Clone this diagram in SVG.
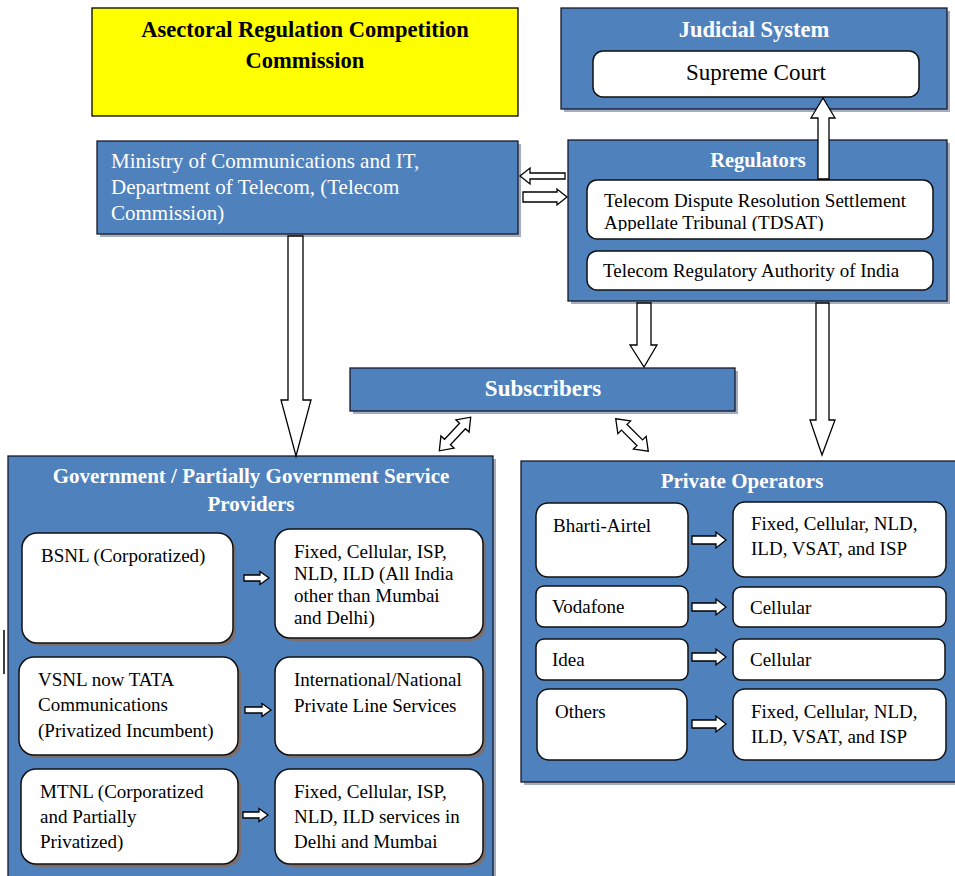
<svg xmlns="http://www.w3.org/2000/svg" width="955" height="876" viewBox="0 0 955 876">
<style>
.outer{fill:#4f81bd;stroke:#1a1a2a;stroke-width:1.3}
.oshadow{fill:#a3adbd}
.ishadow{fill:#7d6e6e}
.inner{fill:#ffffff;stroke:#111;stroke-width:1.5}
.arr{fill:#ffffff;stroke:#000;stroke-width:1.3;stroke-linejoin:miter}
.t{font-family:"Liberation Serif","Times New Roman",serif;font-size:19px;fill:#000}
.w{font-family:"Liberation Serif","Times New Roman",serif;fill:#ffffff}
.b{font-weight:bold}
</style>
<defs>
<clipPath id="tdclip"><rect x="587" y="180" width="346" height="51"/></clipPath>
</defs>
<rect x="0" y="0" width="955" height="876" fill="#ffffff"/>

<g id="commission">
<rect x="92" y="8" width="426" height="108" fill="#ffff00" stroke="#000" stroke-width="1.3"/>
<text class="t b" x="305" y="37" text-anchor="middle" style="font-size:22.5px">Asectoral Regulation Competition</text>
<text class="t b" x="305" y="68" text-anchor="middle" style="font-size:22.5px">Commission</text>
</g>

<g id="judicial">
<rect class="oshadow" x="564" y="11" width="386" height="101"/>
<rect class="outer" x="561" y="8" width="386" height="101"/>
<text class="w b" x="754" y="37" text-anchor="middle" font-size="22.5">Judicial System</text>
<rect class="inner" x="593" y="51" width="326" height="46" rx="10"/>
<text class="t" x="756" y="80" text-anchor="middle" style="font-size:23px">Supreme Court</text>
</g>

<g id="ministry">
<rect class="oshadow" x="100" y="144" width="421" height="93"/>
<rect class="outer" x="97" y="141" width="421" height="93"/>
<text class="w" font-size="21" x="111" y="168">Ministry of Communications and IT,</text>
<text class="w" font-size="21" x="111" y="194">Department of Telecom, (Telecom</text>
<text class="w" font-size="21" x="111" y="220">Commission)</text>
</g>

<g id="regulators">
<rect class="oshadow" x="571" y="143" width="379" height="161"/>
<rect class="outer" x="568" y="140" width="379" height="161"/>
<text class="w b" x="758" y="167" text-anchor="middle" font-size="20.5">Regulators</text>
<rect class="inner" x="587" y="180" width="346" height="59" rx="10"/>
<g clip-path="url(#tdclip)">
<text class="t" x="604" y="207">Telecom Dispute Resolution Settlement</text>
<text class="t" x="604" y="229">Appellate Tribunal (TDSAT)</text>
</g>
<rect class="inner" x="587" y="251" width="346" height="39" rx="10"/>
<text class="t" x="603" y="277">Telecom Regulatory Authority of India</text>
</g>

<g id="subscribers">
<rect class="oshadow" x="353" y="371" width="385" height="43"/>
<rect class="outer" x="350" y="368" width="385" height="43"/>
<text class="w b" x="543" y="396" text-anchor="middle" font-size="23">Subscribers</text>
</g>

<g id="government">
<rect class="oshadow" x="11" y="459" width="485" height="420"/>
<rect class="outer" x="8" y="456" width="485" height="425"/>
<text class="w b" x="251" y="483" text-anchor="middle" font-size="21">Government / Partially Government Service</text>
<text class="w b" x="251" y="511" text-anchor="middle" font-size="21">Providers</text>

<rect class="ishadow" x="25" y="536" width="211" height="110" rx="15"/>
<rect class="inner" x="22" y="533" width="211" height="110" rx="15"/>
<text class="t" x="41" y="562">BSNL (Corporatized)</text>
<rect class="ishadow" x="278" y="532" width="208" height="109" rx="15"/>
<rect class="inner" x="275" y="529" width="208" height="109" rx="15"/>
<text class="t" x="294" y="558">Fixed, Cellular, ISP,</text>
<text class="t" x="294" y="580">NLD, ILD (All India</text>
<text class="t" x="294" y="602">other than Mumbai</text>
<text class="t" x="294" y="624">and Delhi)</text>

<rect class="ishadow" x="22" y="660" width="219" height="98" rx="15"/>
<rect class="inner" x="19" y="657" width="219" height="98" rx="15"/>
<text class="t" x="38" y="686">VSNL now TATA</text>
<text class="t" x="38" y="711">Communications</text>
<text class="t" x="38" y="737">(Privatized Incumbent)</text>
<rect class="ishadow" x="278" y="660" width="208" height="98" rx="15"/>
<rect class="inner" x="275" y="657" width="208" height="98" rx="15"/>
<text class="t" x="294" y="686">International/National</text>
<text class="t" x="294" y="712">Private Line Services</text>

<rect class="ishadow" x="24" y="772" width="217" height="95" rx="15"/>
<rect class="inner" x="21" y="769" width="217" height="95" rx="15"/>
<text class="t" x="40" y="798">MTNL (Corporatized</text>
<text class="t" x="40" y="823">and Partially</text>
<text class="t" x="40" y="848">Privatized)</text>
<rect class="ishadow" x="278" y="772" width="208" height="95" rx="15"/>
<rect class="inner" x="275" y="769" width="208" height="95" rx="15"/>
<text class="t" x="294" y="798">Fixed, Cellular, ISP,</text>
<text class="t" x="294" y="823">NLD, ILD services in</text>
<text class="t" x="294" y="848">Delhi and Mumbai</text>
</g>

<g id="private">
<rect class="oshadow" x="524" y="464" width="434" height="321"/>
<rect class="outer" x="521" y="461" width="440" height="321"/>
<text class="w b" x="742" y="488" text-anchor="middle" font-size="21">Private Operators</text>

<rect class="inner" x="536" y="503" width="152" height="74" rx="12"/>
<text class="t" x="553" y="532">Bharti-Airtel</text>
<rect class="inner" x="733" y="502" width="213" height="75" rx="12"/>
<text class="t" x="751" y="530">Fixed, Cellular, NLD,</text>
<text class="t" x="751" y="555">ILD, VSAT, and ISP</text>

<rect class="inner" x="536" y="586" width="152" height="41" rx="8"/>
<text class="t" x="552" y="613">Vodafone</text>
<rect class="inner" x="733" y="587" width="213" height="40" rx="8"/>
<text class="t" x="750" y="614">Cellular</text>

<rect class="inner" x="536" y="639" width="152" height="41" rx="8"/>
<text class="t" x="552" y="666">Idea</text>
<rect class="inner" x="733" y="639" width="212" height="41" rx="8"/>
<text class="t" x="750" y="666">Cellular</text>

<rect class="inner" x="537" y="689" width="150" height="71" rx="12"/>
<text class="t" x="555" y="718">Others</text>
<rect class="inner" x="733" y="689" width="213" height="71" rx="12"/>
<text class="t" x="751" y="718">Fixed, Cellular, NLD,</text>
<text class="t" x="751" y="743">ILD, VSAT, and ISP</text>
</g>

<line x1="4" y1="630" x2="4" y2="674" stroke="#000" stroke-width="1.5"/>

<g id="connectors">
<polygon class="arr" points="520,176 530,168 530,173 565,173 565,179 530,179 530,184"/>
<polygon class="arr" points="523,192 557,192 557,189 567,197 557,205 557,202 523,202"/>
<polygon class="arr" points="818,179 818,118 811,118 823,98 835,118 829,118 829,179"/>
<polygon class="arr" points="288,236 303,236 303,400 311,400 296,456 281,400 288,400"/>
<polygon class="arr" points="637,303 651,303 651,345 657,345 644,367 630,345 637,345"/>
<polygon class="arr" points="816,303 829,303 829,420 835,420 822,455 810,420 816,420"/>
<polygon class="arr" transform="translate(455,434) rotate(-47)" points="-23,0 -11,-9 -11,-4 11,-4 11,-9 23,0 11,9 11,4 -11,4 -11,9"/>
<polygon class="arr" transform="translate(632,435) rotate(45)" points="-23,0 -11,-9 -11,-4 11,-4 11,-9 23,0 11,9 11,4 -11,4 -11,9"/>
<polygon class="arr" points="244,575 260,575 260,571.5 269,578 260,584.5 260,581 244,581"/>
<polygon class="arr" points="245,707 262,707 262,703.5 271,710 262,716.5 262,713 245,713"/>
<polygon class="arr" points="243,812 259,812 259,808.5 268,815 259,821.5 259,818 243,818"/>
<polygon class="arr" points="692,536 716,536 716,532 726,540 716,548 716,544 692,544"/>
<polygon class="arr" points="692,603 716,603 716,599 726,607 716,615 716,611 692,611"/>
<polygon class="arr" points="692,653 716,653 716,649 726,657 716,665 716,661 692,661"/>
<polygon class="arr" points="692,720 716,720 716,716 726,724 716,732 716,728 692,728"/>
</g>
</svg>
